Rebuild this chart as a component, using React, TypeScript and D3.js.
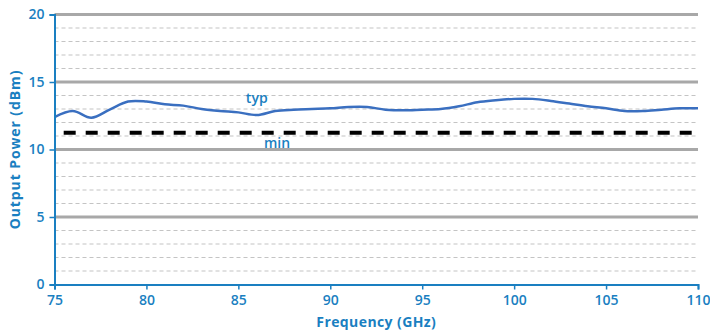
import { useEffect, useRef } from "react";
import * as d3 from "d3";

const freqs = [75, 76, 77, 78, 79, 80, 81, 82, 83, 84, 85, 86, 87, 88, 89, 90, 91, 92,
  93, 94, 95, 96, 97, 98, 99, 100, 101, 102, 103, 104, 105, 106, 107, 108, 109, 110];
const typPower = [12.4, 12.85, 12.35, 12.95, 13.55, 13.55, 13.35, 13.25, 13.0, 12.85, 12.75,
  12.55, 12.85, 12.95, 13.0, 13.05, 13.15, 13.15, 12.95, 12.9, 12.95, 13.0, 13.2, 13.5,
  13.65, 13.75, 13.75, 13.6, 13.4, 13.2, 13.05, 12.85, 12.85, 12.95, 13.05, 13.05];
const minFreq = [75.5, 110];
const minPower = 11.25;
const xTicks = [75, 80, 85, 90, 95, 100, 105, 110];
const yTicks = [0, 5, 10, 15, 20];
const minorTicks = [1, 2, 3, 4, 6, 7, 8, 9, 11, 12, 13, 14, 16, 17, 18, 19];
const labels = [
  { text: "typ", f: 86, v: 13.7 },
  { text: "min", f: 87.1, v: 10.4 },
];

const BLUE = "#1a7fc1";
const FONT = "'Open Sans', 'DejaVu Sans', sans-serif";

export default function App() {
  const ref = useRef<SVGSVGElement>(null);

  useEffect(() => {
    const width = 710;
    const height = 335;
    const svg = d3.select(ref.current);
    svg.selectAll("*").remove();

    const x = d3.scaleLinear().domain([75, 110]).range([54.5, 698]);
    const y = d3.scaleLinear().domain([0, 20]).range([284.5, 14.5]);

    // minor dashed grid
    svg.append("g")
      .selectAll("line")
      .data(minorTicks)
      .join("line")
      .attr("x1", x(75)).attr("x2", x(110))
      .attr("y1", (d) => y(d)).attr("y2", (d) => y(d))
      .attr("stroke", "#c4c4c4")
      .attr("stroke-width", 1.2)
      .attr("stroke-dasharray", "4,3");

    // major grid
    svg.append("g")
      .selectAll("line")
      .data(yTicks.filter((d) => d > 0))
      .join("line")
      .attr("x1", x(75)).attr("x2", x(110))
      .attr("y1", (d) => y(d)).attr("y2", (d) => y(d))
      .attr("stroke", "#a8a8a8")
      .attr("stroke-width", 3);

    // min line
    svg.append("line")
      .attr("x1", x(minFreq[0])).attr("x2", x(minFreq[1]))
      .attr("y1", y(minPower)).attr("y2", y(minPower))
      .attr("stroke", "#000")
      .attr("stroke-width", 4)
      .attr("stroke-dasharray", "12,10");

    // typ curve
    const line = d3.line<number>()
      .x((_, i) => x(freqs[i]))
      .y((d) => y(d))
      .curve(d3.curveCatmullRom.alpha(0.5));
    svg.append("path")
      .datum(typPower)
      .attr("fill", "none")
      .attr("stroke", "#3a6fc0")
      .attr("stroke-width", 2.5)
      .attr("d", line);

    // axes
    const xAxis = svg.append("g")
      .attr("transform", `translate(0,${y(0)})`)
      .call(d3.axisBottom(x).tickValues(xTicks).tickSize(5).tickPadding(6).tickFormat(d3.format("d")));
    const yAxis = svg.append("g")
      .attr("transform", `translate(${x(75)},0)`)
      .call(d3.axisLeft(y).tickValues(yTicks).tickSize(5).tickPadding(5).tickFormat(d3.format("d")));

    [xAxis, yAxis].forEach((g) => {
      g.select(".domain").attr("stroke", BLUE).attr("stroke-width", 2);
      g.selectAll(".tick line").attr("stroke", BLUE).attr("stroke-width", 1.5);
      g.selectAll(".tick text")
        .attr("fill", BLUE)
        .style("font-family", FONT)
        .style("font-size", "14px")
        .style("font-weight", 600);
    });

    // labels
    svg.append("g")
      .selectAll("text")
      .data(labels)
      .join("text")
      .attr("x", (d) => x(d.f))
      .attr("y", (d) => y(d.v))
      .attr("text-anchor", "middle")
      .attr("dominant-baseline", "middle")
      .attr("fill", BLUE)
      .style("font-family", FONT)
      .style("font-size", "14px")
      .style("font-weight", 600)
      .text((d) => d.text);

    svg.append("text")
      .attr("x", (x(75) + x(110)) / 2)
      .attr("y", 327)
      .attr("text-anchor", "middle")
      .attr("fill", BLUE)
      .style("font-family", FONT)
      .style("font-size", "14px")
      .style("font-weight", 700)
      .style("letter-spacing", "0.4px")
      .text("Frequency (GHz)");

    svg.append("text")
      .attr("transform", `translate(20,${(y(0) + y(20)) / 2}) rotate(-90)`)
      .attr("text-anchor", "middle")
      .attr("fill", BLUE)
      .style("font-family", FONT)
      .style("font-size", "14px")
      .style("font-weight", 700)
      .style("letter-spacing", "0.9px")
      .text("Output Power (dBm)");

    svg.attr("width", width).attr("height", height);
  }, []);

  return (
    <svg
      ref={ref}
      width={710}
      height={335}
      style={{ position: "absolute", left: 0, top: 0, background: "#fff" }}
    />
  );
}
